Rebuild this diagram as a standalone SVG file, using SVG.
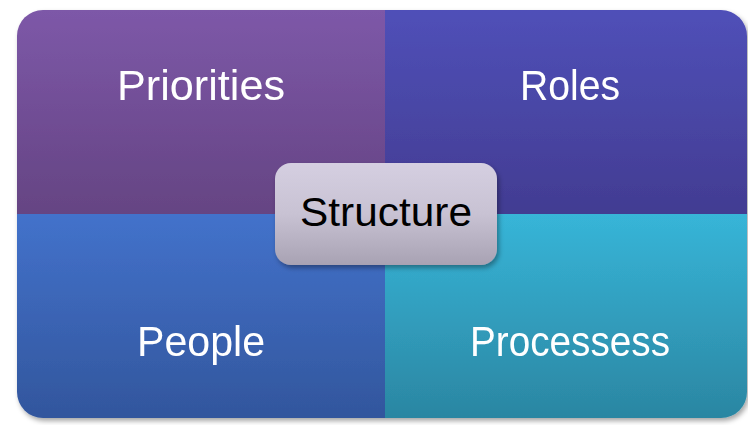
<svg xmlns="http://www.w3.org/2000/svg" width="748" height="425" viewBox="0 0 748 425">
<defs>
<linearGradient id="gTL" x1="0" y1="0" x2="0" y2="1"><stop offset="0" stop-color="#7d58a8"/><stop offset="1" stop-color="#654483"/></linearGradient>
<linearGradient id="gTR" x1="0" y1="0" x2="0" y2="1"><stop offset="0" stop-color="#5050b8"/><stop offset="1" stop-color="#423c92"/></linearGradient>
<linearGradient id="gBL" x1="0" y1="0" x2="0" y2="1"><stop offset="0" stop-color="#4372cb"/><stop offset="1" stop-color="#32569d"/></linearGradient>
<linearGradient id="gBR" x1="0" y1="0" x2="0" y2="1"><stop offset="0" stop-color="#37b5d8"/><stop offset="1" stop-color="#2b86a2"/></linearGradient>
<linearGradient id="gC" x1="0" y1="0" x2="0" y2="1"><stop offset="0" stop-color="#d5cfe1"/><stop offset="0.5" stop-color="#c8c2d3"/><stop offset="1" stop-color="#a8a2b3"/></linearGradient>
<filter id="sh" x="-10%" y="-10%" width="120%" height="125%"><feDropShadow dx="2" dy="3" stdDeviation="2.5" flood-color="#000" flood-opacity="0.35"/></filter>
</defs>
<style>
.lbl{font-family:"Liberation Sans",Arial,sans-serif;font-size:42px;fill:#ffffff;text-anchor:middle}
.ctr{font-family:"Liberation Sans",Arial,sans-serif;font-size:40px;fill:#000000;text-anchor:middle}
</style>
<rect width="748" height="425" fill="#ffffff"/>
<g filter="url(#sh)">
<g id="priorities">
<path d="M17,214 V36 A26,26 0 0 1 43,10 H385 V214 Z" fill="url(#gTL)"/>
<text class="lbl" x="201" y="100" textLength="168" lengthAdjust="spacingAndGlyphs">Priorities</text>
</g>
<g id="roles">
<path d="M385,10 H721 A26,26 0 0 1 747,36 V214 H385 Z" fill="url(#gTR)"/>
<text class="lbl" x="570" y="100" textLength="100" lengthAdjust="spacingAndGlyphs">Roles</text>
</g>
<g id="people">
<path d="M17,214 H385 V418 H43 A26,26 0 0 1 17,392 Z" fill="url(#gBL)"/>
<text class="lbl" x="201" y="356" textLength="128" lengthAdjust="spacingAndGlyphs">People</text>
</g>
<g id="processess">
<path d="M385,214 H747 V392 A26,26 0 0 1 721,418 H385 Z" fill="url(#gBR)"/>
<text class="lbl" x="570" y="356" textLength="200" lengthAdjust="spacingAndGlyphs">Processess</text>
</g>
</g>
<g id="structure">
<rect x="275" y="163" width="222" height="102" rx="16" ry="16" fill="url(#gC)" filter="url(#sh)"/>
<text class="ctr" x="386" y="226" textLength="172" lengthAdjust="spacingAndGlyphs">Structure</text>
</g>
</svg>
